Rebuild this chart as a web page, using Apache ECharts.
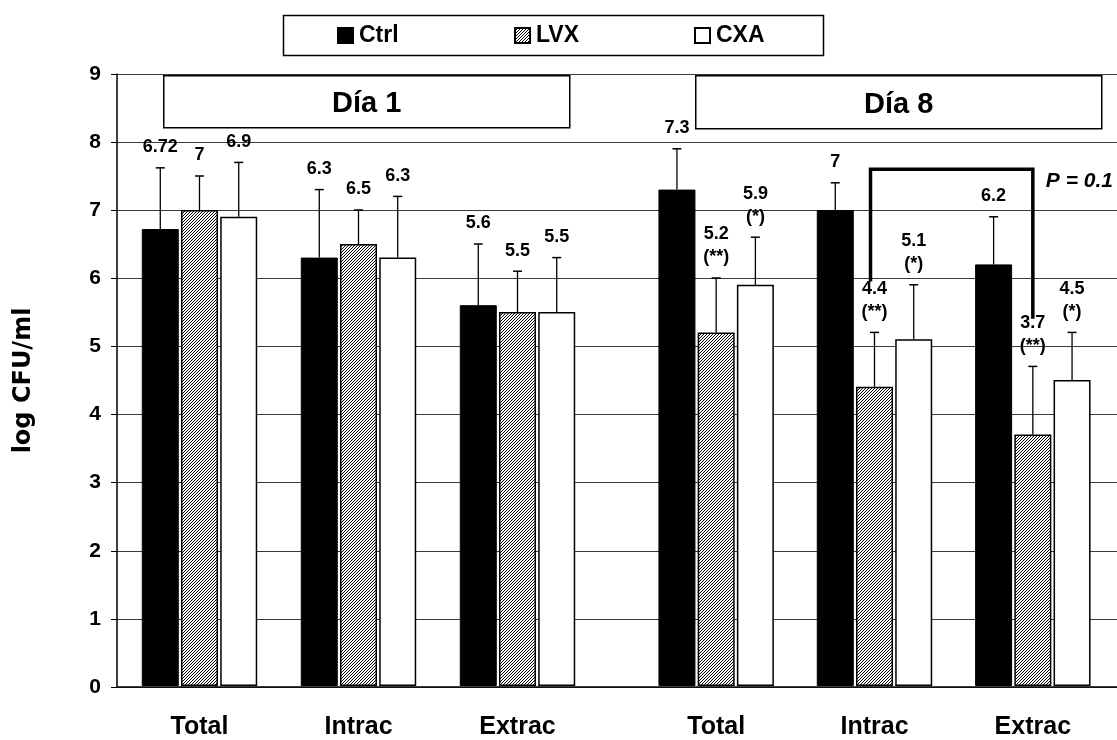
<!DOCTYPE html>
<html>
<head>
<meta charset="utf-8">
<script src="https://cdn.jsdelivr.net/npm/echarts@6/dist/echarts.min.js"></script>
<style>
html,body{margin:0;padding:0;background:#fff;}
#chart{width:1117px;height:740px;}
</style>
</head>
<body>
<div id="chart"></div>
<script>
// ---- data ----
const categories = ['Total', 'Intrac', 'Extrac'];
const treatments = ['Ctrl', 'LVX', 'CXA'];
const dayTitles = ['Día 1', 'Día 8'];

const day1Ctrl = [6.72, 6.3, 5.6];
const day1LVX  = [7, 6.5, 5.5];
const day1CXA  = [6.9, 6.3, 5.5];
const day1CtrlSD = [0.9, 1.0, 0.9];
const day1LVXSD  = [0.5, 0.5, 0.6];
const day1CXASD  = [0.8, 0.9, 0.8];

const day8Ctrl = [7.3, 7, 6.2];
const day8LVX  = [5.2, 4.4, 3.7];
const day8CXA  = [5.9, 5.1, 4.5];
const day8CtrlSD = [0.6, 0.4, 0.7];
const day8LVXSD  = [0.8, 0.8, 1.0];
const day8CXASD  = [0.7, 0.8, 0.7];

const day1Stars = { Ctrl: ['', '', ''], LVX: ['', '', ''], CXA: ['', '', ''] };
const day8Stars = { Ctrl: ['', '', ''], LVX: ['(**)', '(**)', '(**)'], CXA: ['(*)', '(*)', '(*)'] };

// bracket: between Day 8 Intrac LVX and Extrac LVX
const bracketFrom = 'Intrac';
const bracketTo = 'Extrac';
const bracketTop = 7.6;
const bracketLeftEnd = 5.95;
const bracketRightEnd = 5.4;
const pValueText = 'P = 0.1';
const pValueLevel = 7.42;

const yMin = 0, yMax = 9, yInterval = 1;

// ---- style ----
const FONT = '"Liberation Sans", Arial, sans-serif';
const WIDE = '"DejaVu Sans", "Liberation Sans", sans-serif';
const BAR_W = 37;
const BAR_GAP = 0.06;
const BAR_STEP = BAR_W * (1 + BAR_GAP);

function hatchPattern() {
  const s = 3;
  const c = document.createElement('canvas');
  c.width = s; c.height = s;
  const g = c.getContext('2d');
  g.fillStyle = '#fff';
  g.fillRect(0, 0, s, s);
  g.fillStyle = '#000';
  for (let x = 0; x < s; x++) {
    for (let y = 0; y < s; y++) {
      if ((x + y) % s === s - 1) g.fillRect(x, y, 1, 1);
    }
  }
  return c;
}
const hatch = { image: hatchPattern(), repeat: 'repeat' };

const barStyles = {
  Ctrl: { color: '#000', borderColor: '#000', borderWidth: 1 },
  LVX:  { color: hatch, borderColor: '#000', borderWidth: 1.5 },
  CXA:  { color: '#fff', borderColor: '#000', borderWidth: 1.5 }
};

const dayData = [
  { Ctrl: [day1Ctrl, day1CtrlSD], LVX: [day1LVX, day1LVXSD], CXA: [day1CXA, day1CXASD], stars: day1Stars },
  { Ctrl: [day8Ctrl, day8CtrlSD], LVX: [day8LVX, day8LVXSD], CXA: [day8CXA, day8CXASD], stars: day8Stars }
];

function errRender(offsetIdx, stars) {
  return function (params, api) {
    const i = api.value(0), m = api.value(1), e = api.value(2);
    const base = api.coord([i, m]);
    const top = api.coord([i, m + e]);
    const cx = base[0] + offsetIdx * BAR_STEP;
    const st = stars[i];
    const txt = String(m) + (st ? '\n' + st : '');
    return {
      type: 'group',
      children: [
        { type: 'line', shape: { x1: cx, y1: base[1], x2: cx, y2: top[1] }, style: { stroke: '#000', lineWidth: 1.3 } },
        { type: 'line', shape: { x1: cx - 4.5, y1: top[1], x2: cx + 4.5, y2: top[1] }, style: { stroke: '#000', lineWidth: 1.5 } },
        { type: 'text', style: { text: txt, x: cx, y: top[1] - 9, align: 'center', verticalAlign: 'bottom',
            font: 'bold 18px ' + FONT, lineHeight: 23, fill: '#000' } }
      ]
    };
  };
}

const series = [];
dayData.forEach(function (dd, d) {
  const ax = d + 1;
  treatments.forEach(function (t, k) {
    series.push({
      name: t, type: 'bar', xAxisIndex: ax, yAxisIndex: ax,
      barWidth: BAR_W, barGap: (BAR_GAP * 100) + '%',
      itemStyle: barStyles[t],
      data: dd[t][0],
      z: 2
    });
  });
  treatments.forEach(function (t, k) {
    series.push({
      name: 'err-' + t + '-' + d, type: 'custom', xAxisIndex: ax, yAxisIndex: ax,
      renderItem: errRender(k - 1, dd.stars[t]),
      data: dd[t][0].map(function (v, i) { return [i, v, dd[t][1][i]]; }),
      z: 3, silent: true
    });
  });
});

// bracket with p-value
series.push({
  name: 'bracket', type: 'custom', xAxisIndex: 2, yAxisIndex: 2, silent: true, z: 4,
  renderItem: function (params, api) {
    const a = api.value(0), b = api.value(1);
    const p1 = api.coord([a, api.value(3)]);
    const p2 = api.coord([a, api.value(2)]);
    const p3 = api.coord([b, api.value(2)]);
    const p4 = api.coord([b, api.value(4)]);
    const pt = api.coord([b, api.value(5)]);
    return {
      type: 'group',
      children: [
        { type: 'polyline', shape: { points: [[p1[0] - 4, p1[1]], [p2[0] - 4, p2[1]], p3, p4] },
          style: { stroke: '#000', lineWidth: 3.5, fill: 'none', lineJoin: 'miter' } },
        { type: 'text', style: { text: pValueText, x: p3[0] + 13, y: pt[1], align: 'left', verticalAlign: 'middle',
            font: 'italic bold 21px ' + FONT, fill: '#000' } }
      ]
    };
  },
  data: [[categories.indexOf(bracketFrom), categories.indexOf(bracketTo), bracketTop, bracketLeftEnd, bracketRightEnd, pValueLevel]]
});

const catAxis = function (gridIndex) {
  return {
    type: 'category', gridIndex: gridIndex, data: categories,
    axisLine: { show: false }, axisTick: { show: false },
    axisLabel: { color: '#000', fontFamily: FONT, fontWeight: 'bold', fontSize: 25, margin: 29 }
  };
};
const hiddenY = function (gridIndex) {
  return { type: 'value', gridIndex: gridIndex, min: yMin, max: yMax, interval: yInterval, show: false, splitLine: { show: false } };
};

const option = {
  backgroundColor: '#fff',
  animation: false,
  textStyle: { fontFamily: FONT },
  grid: [
    { left: 117, right: 0, top: 74, bottom: 53 },
    { left: 120, width: 477, top: 74, bottom: 53 },
    { left: 637, width: 475, top: 74, bottom: 53 }
  ],
  xAxis: [
    { type: 'category', gridIndex: 0, data: [''], axisLine: { show: true, lineStyle: { color: '#000', width: 1.5 } },
      axisTick: { show: false }, axisLabel: { show: false }, splitLine: { show: false } },
    catAxis(1), catAxis(2)
  ],
  yAxis: [
    { type: 'value', gridIndex: 0, min: yMin, max: yMax, interval: yInterval,
      name: 'log CFU/ml', nameLocation: 'middle', nameGap: 81, nameRotate: 90,
      nameTextStyle: { color: '#000', fontFamily: WIDE, fontWeight: 'bold', fontSize: 24 },
      axisLine: { show: true, lineStyle: { color: '#000', width: 1.5 } },
      axisTick: { show: true, length: 6, lineStyle: { color: '#000', width: 1 } },
      axisLabel: { color: '#000', fontFamily: FONT, fontWeight: 'bold', fontSize: 21, margin: 16 },
      splitLine: { show: true, lineStyle: { color: '#3a3a3a', width: 1 } } },
    hiddenY(1), hiddenY(2)
  ],
  legend: treatments.map(function (t, k) {
    return {
      data: [t], left: [337, 514, 694][k], top: 24, padding: 0,
      icon: 'rect', itemWidth: 15, itemHeight: 15, itemGap: 0,
      selectedMode: false,
      textStyle: { color: '#000', fontFamily: FONT, fontWeight: 'bold', fontSize: 23, padding: [0, 0, 0, 1] }
    };
  }),
  graphic: [
    { type: 'rect', left: 281, top: 13, shape: { width: 540, height: 40 }, style: { fill: 'none', stroke: '#000', lineWidth: 1.5 }, z: 0 },
    { type: 'group', left: 163, top: 75, children: [
      { type: 'rect', shape: { x: 0, y: 0, width: 406, height: 52 }, style: { fill: '#fff', stroke: '#000', lineWidth: 1.5 } },
      { type: 'text', x: 203, y: 28, style: { text: dayTitles[0], align: 'center', verticalAlign: 'middle', font: 'bold 29px ' + FONT, fill: '#000' } }
    ] },
    { type: 'group', left: 695, top: 75, children: [
      { type: 'rect', shape: { x: 0, y: 0, width: 406, height: 53 }, style: { fill: '#fff', stroke: '#000', lineWidth: 1.5 } },
      { type: 'text', x: 203, y: 29, style: { text: dayTitles[1], align: 'center', verticalAlign: 'middle', font: 'bold 29px ' + FONT, fill: '#000' } }
    ] }
  ],
  series: series
};

const chart = echarts.init(document.getElementById('chart'), null, { renderer: 'canvas' });
chart.setOption(option);
</script>
</body>
</html>
